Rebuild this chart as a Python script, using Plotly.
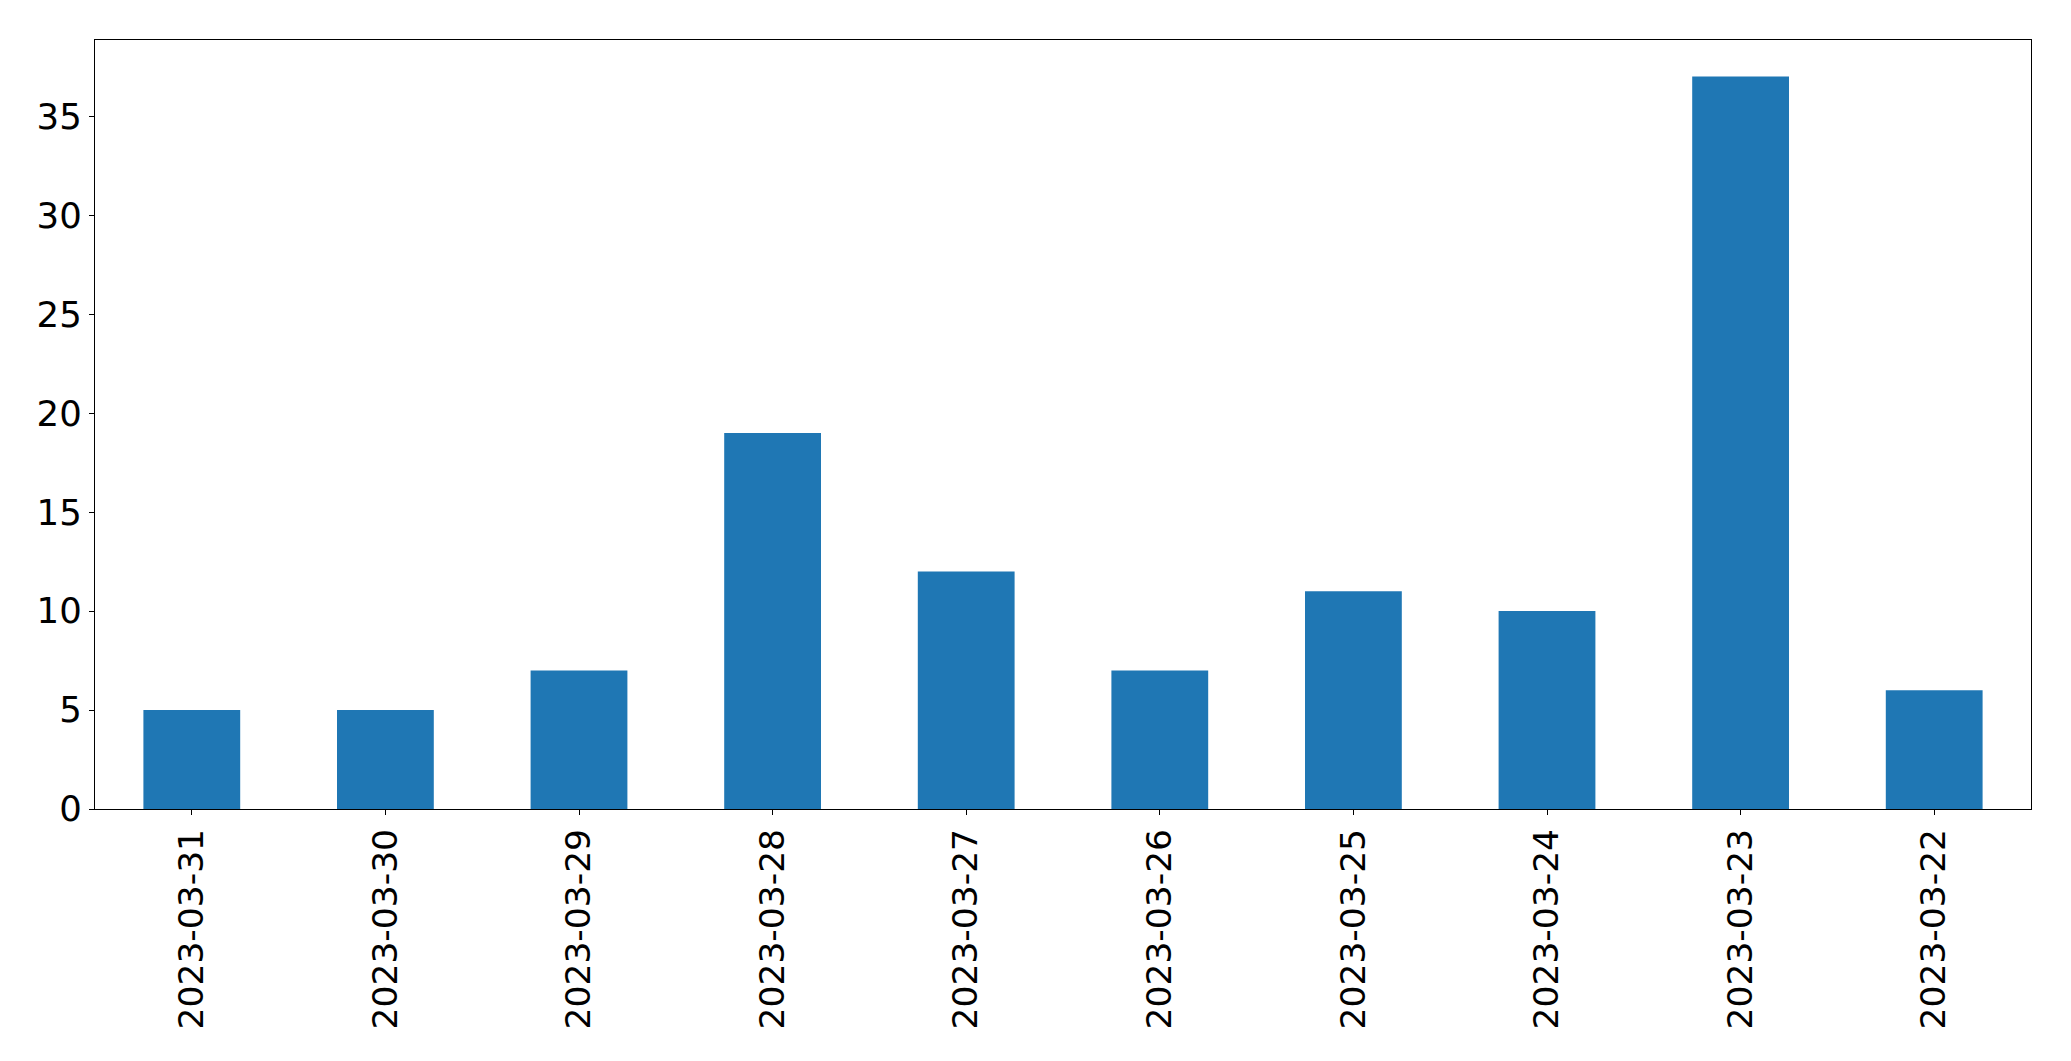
import plotly.graph_objects as go

dates = ["2023-03-31", "2023-03-30", "2023-03-29", "2023-03-28", "2023-03-27",
         "2023-03-26", "2023-03-25", "2023-03-24", "2023-03-23", "2023-03-22"]
counts = [5, 5, 7, 19, 12, 7, 11, 10, 37, 6]

fig = go.Figure()
fig.add_trace(go.Bar(x=dates, y=counts, marker=dict(color="#1f77b4", line=dict(width=0)), width=0.5))

axis_common = dict(
    showline=True, linecolor="black", linewidth=1.3, mirror=True,
    ticks="outside", ticklen=5, tickwidth=1.3, tickcolor="black",
    showgrid=False, zeroline=False,
)

fig.update_layout(
    width=2071, height=1061,
    margin=dict(l=94.5, r=39.5, t=39.5, b=252, autoexpand=False),
    plot_bgcolor="white", paper_bgcolor="white",
    showlegend=False,
    bargap=0.5,
    xaxis=dict(type="category", range=[-0.5, 9.5], tickangle=-90, automargin=False,
               tickfont=dict(family="DejaVu Sans", size=34.5, color="black"), **axis_common),
    yaxis=dict(range=[0, 38.85], tickvals=[0, 5, 10, 15, 20, 25, 30, 35], automargin=False,
               tickfont=dict(family="DejaVu Sans", size=35.5, color="black"), **axis_common),
)

fig.write_html("out.html")
